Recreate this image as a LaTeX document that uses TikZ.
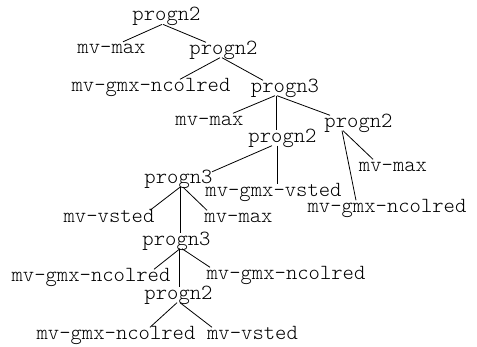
\documentclass[tikz,border=0pt]{standalone}
\begin{document}
\begin{tikzpicture}[x=1pt,y=-1pt,
  lbl/.style={inner sep=0pt, text height=11.6pt, text depth=3.4pt,
    font=\fontsize{21.6}{24}\fontseries{l}\ttfamily\selectfont},
  edge/.style={line width=0.8pt, black}]
\useasboundingbox[fill=white] (0,0) rectangle (477,347);

% tree nodes
\node[lbl] (P1)  at (166.5, 16.7) {progn2};
\node[lbl] (mvA) at (111.5, 49.5) {mv-max};
\node[lbl] (P2)  at (223.5, 50)   {progn2};
\node[lbl] (ncA) at (151, 87)     {mv-gmx-ncolred};
\node[lbl] (P3)  at (285, 88)     {progn3};
\node[lbl] (mvB) at (209.5, 121)  {mv-max};
\node[lbl] (P4)  at (282.5, 138)  {progn2};
\node[lbl] (P5)  at (358.5, 123)  {progn2};
\node[lbl] (mvC) at (393, 167)    {mv-max};
\node[lbl] (P6)  at (178.5, 179.5){progn3};
\node[lbl] (gvA) at (273.5, 192)  {mv-gmx-vsted};
\node[lbl] (ncB) at (387, 208)    {mv-gmx-ncolred};
\node[lbl] (vsA) at (109, 218)    {mv-vsted};
\node[lbl] (mvD) at (238.5, 218)  {mv-max};
\node[lbl] (P7)  at (176.5, 241)  {progn3};
\node[lbl] (ncC) at (91, 277)     {mv-gmx-ncolred};
\node[lbl] (ncD) at (286, 275)    {mv-gmx-ncolred};
\node[lbl] (P8)  at (178.5, 295)  {progn2};
\node[lbl] (ncE) at (116, 335)    {mv-gmx-ncolred};
\node[lbl] (vsB) at (252.5, 335)  {mv-vsted};

% branches
\draw[edge] ([xshift=-4.5pt]P1.south) -- ([xshift=11.5pt]mvA.north);
\draw[edge] ([xshift=-3.5pt]P1.south) -- ([xshift=-17.5pt]P2.north);
\draw[edge] ([xshift=-3.5pt]P2.south) -- ([xshift=29pt]ncA.north);
\draw[edge] ([xshift=-1.5pt]P2.south) -- ([xshift=-22pt]P3.north);
\draw[edge] ([xshift=-10pt]P3.south)  -- ([xshift=23.5pt]mvB.north);
\draw[edge] ([xshift=-9pt]P3.south)   -- ([xshift=-6.5pt]P4.north);
\draw[edge] ([xshift=-8pt]P3.south)   -- ([xshift=-28.5pt]P5.north);
\draw[edge] ([xshift=-15.5pt]P5.south) -- ([xshift=-20pt]mvC.north);
\draw[edge] ([xshift=-16.5pt]P5.south) -- ([xshift=-31pt]ncB.north);
\draw[edge] ([xshift=-10.5pt]P4.south) -- ([xshift=33.5pt]P6.north);
\draw[edge] ([xshift=-5.5pt]P4.south)  -- ([xshift=3.5pt]gvA.north);
\draw[edge] ([xshift=1.5pt]P6.south)  -- ([xshift=41pt]vsA.north);
\draw[edge] ([xshift=4.5pt]P6.south)  -- ([xshift=-31.5pt]mvD.north);
\draw[edge] ([xshift=1.5pt]P6.south)  -- ([xshift=3.5pt]P7.north);
\draw[edge] ([xshift=3.5pt]P7.south)  -- ([xshift=63pt]ncC.north);
\draw[edge] ([xshift=5.5pt]P7.south)  -- ([xshift=-76pt]ncD.north);
\draw[edge] ([xshift=2.5pt]P7.south)  -- ([xshift=0.5pt]P8.north);
\draw[edge] ([xshift=-1.5pt]P8.south) -- ([xshift=34pt]ncE.north);
\draw[edge] ([xshift=1.5pt]P8.south)  -- ([xshift=-40.5pt]vsB.north);
\end{tikzpicture}
\end{document}
